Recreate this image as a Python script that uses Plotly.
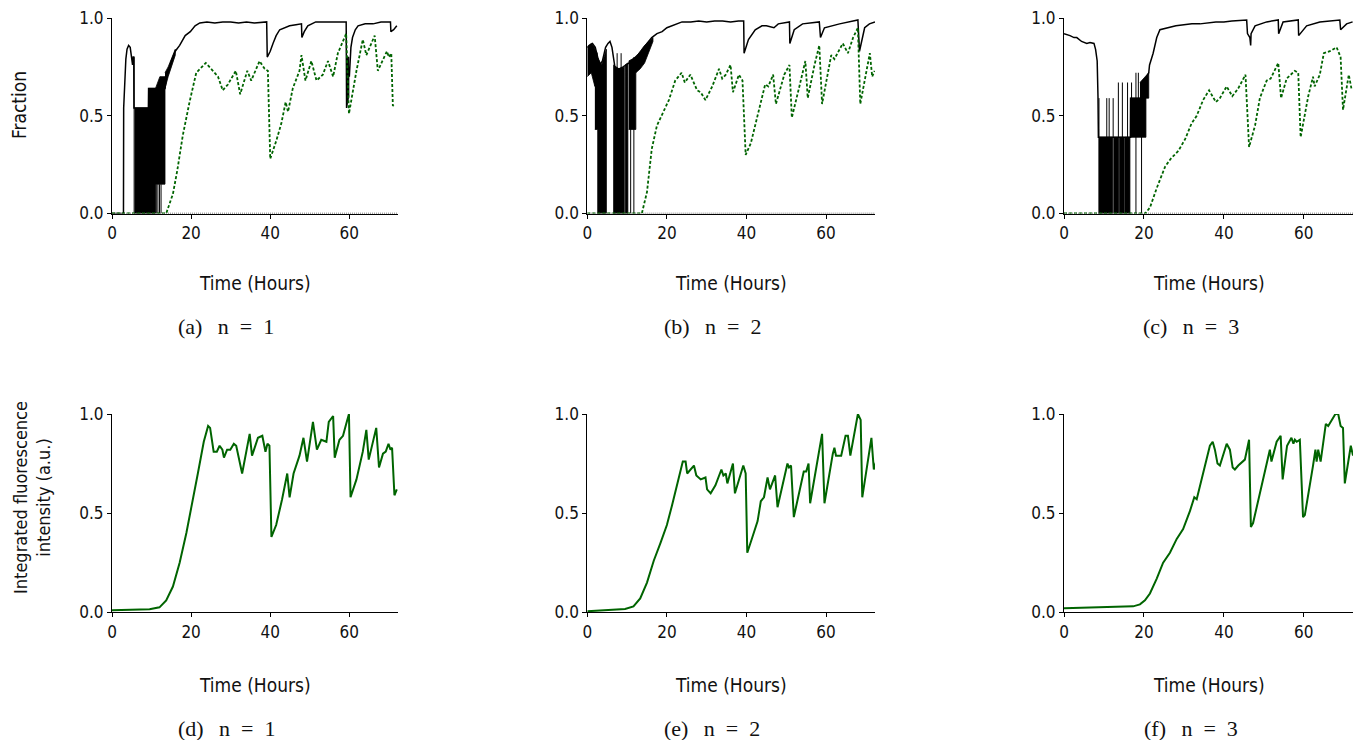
import plotly.graph_objects as go

# ---------------- data ----------------
# x axis: time in hours; y: fraction / normalised intensity
time_ticks = [0, 20, 40, 60]
y_ticks = [0.0, 0.5, 1.0]
y_ticklabels = ["0.0", "0.5", "1.0"]

# (a) n = 1 : black fraction (backbone)
a_black_t = [0, 2.9, 2.95, 3.2, 3.5, 3.8, 4.2, 4.6, 4.9, 5.2, 5.35, 5.5, 5.55, 9.2, 9.25, 13.4, 13.8, 14.2, 15.0,
             16.0, 17.1, 18.5, 19.8, 21.0, 22.2, 24, 26, 28, 30, 32, 34, 36, 38, 39.1, 39.25, 40.0, 40.7, 41.5,
             42.4, 43.5, 44.9, 46.5, 47.9, 48.0, 48.6, 49.5, 51.5, 54, 57, 59.2, 59.3, 59.45, 59.6, 59.8, 60.0,
             60.4, 60.8, 61.5, 62.2, 64, 66, 68, 70.4, 70.5, 71.2, 72]
a_black_v = [0, 0, 0.54, 0.70, 0.79, 0.84, 0.86, 0.85, 0.80, 0.76, 0.80, 0.80, 0.54, 0.54, 0.64, 0.64, 0.70, 0.73,
             0.78, 0.83, 0.86, 0.91, 0.93, 0.96, 0.975, 0.98, 0.975, 0.98, 0.98, 0.975, 0.98, 0.975, 0.98, 0.98,
             0.80, 0.83, 0.87, 0.91, 0.94, 0.95, 0.96, 0.965, 0.97, 0.90, 0.93, 0.96, 0.98, 0.98, 0.98, 0.98, 0.54,
             0.80, 0.60, 0.75, 0.70, 0.85, 0.90, 0.94, 0.96, 0.97, 0.97, 0.98, 0.98, 0.93, 0.94, 0.96]
# dense switching blocks of the black fraction (t, lower, upper)
a_band_t = [[5.7, 9.2], [9.2, 11.0], [11.0, 12.1, 13.4], [13.4, 14.2, 15.0, 16.0], [59.3, 59.9]]
a_band_lo = [[0, 0], [0, 0], [0.15, 0.15, 0.15], [0.64, 0.70, 0.75, 0.81], [0.54, 0.60]]
a_band_hi = [[0.54, 0.54], [0.64, 0.64], [0.64, 0.70, 0.70], [0.72, 0.75, 0.79, 0.84], [0.80, 0.80]]
a_spike_t = [5.6, 11.2, 11.6, 12.0, 12.4]
a_spike_lo = [0, 0, 0, 0, 0]
a_spike_hi = [0.80, 0.15, 0.15, 0.15, 0.15]
# green fraction (dotted)
a_green_t = [0, 13.7, 15.4, 16.5, 17.9, 19.6, 21.3, 23.7, 25.5, 26.8, 28.0, 29.3, 31.3, 32.4, 34.2, 35.2, 37.3,
             38.6, 39.4, 40.0, 41.5, 42.8, 43.9, 44.5, 45.7, 47.4, 47.9, 48.9, 50.4, 51.7, 53.3, 54.6, 55.9, 57.1,
             59.2, 59.9, 61.8, 63.4, 64.3, 66.4, 67.2, 68.5, 69.5, 70.0, 70.6, 71.0, 71.5]
a_green_v = [0, 0, 0.10, 0.22, 0.40, 0.57, 0.72, 0.77, 0.73, 0.70, 0.63, 0.66, 0.73, 0.61, 0.73, 0.68, 0.78, 0.74,
             0.73, 0.28, 0.37, 0.46, 0.57, 0.52, 0.64, 0.73, 0.81, 0.68, 0.78, 0.68, 0.71, 0.78, 0.70, 0.82, 0.92,
             0.51, 0.73, 0.89, 0.81, 0.91, 0.73, 0.79, 0.83, 0.80, 0.82, 0.55, 0.56]

# (b) n = 2
b_black_t = [0, 0.5, 1.3, 2.0, 2.6, 3.2, 3.8, 4.6, 5.2, 5.7, 6.2, 6.7, 7.0, 8.0, 9.0, 10.5, 12.0, 13.7, 15.0, 16.2,
             17.5, 18.8, 20, 21.3, 22.5, 23.8, 26, 28, 30, 32, 34, 36, 38, 39.3, 39.4, 40.5, 42.2, 43.9, 45, 46.9,
             48, 50.8, 50.9, 52, 54.1, 56, 58.3, 58.6, 59.6, 63.4, 65.5, 68.0, 68.4, 69.7, 70.9, 72.3]
b_black_v = [0.85, 0.86, 0.87, 0.85, 0.80, 0.76, 0.78, 0.85, 0.87, 0.88, 0.85, 0.78, 0.74, 0.74, 0.75, 0.77, 0.80,
             0.83, 0.87, 0.90, 0.92, 0.93, 0.95, 0.96, 0.97, 0.98, 0.98, 0.985, 0.98, 0.985, 0.985, 0.98, 0.985,
             0.985, 0.82, 0.89, 0.94, 0.96, 0.96, 0.95, 0.97, 0.98, 0.87, 0.94, 0.97, 0.975, 0.98, 0.90, 0.95,
             0.97, 0.98, 0.99, 0.83, 0.95, 0.97, 0.98]
b_band_t = [[0, 1.0, 1.9], [1.9, 2.5], [2.5, 3.6, 4.8], [6.5, 8.0, 9.3], [9.5, 10.2], [10.4, 12.2],
            [12.2, 13.3, 14.4, 15.5, 16.5]]
b_band_lo = [[0.70, 0.72, 0.65], [0.43, 0.43], [0, 0, 0], [0, 0, 0], [0, 0], [0.43, 0.43],
             [0.72, 0.74, 0.77, 0.83, 0.88]]
b_band_hi = [[0.85, 0.87, 0.85], [0.84, 0.82], [0.80, 0.76, 0.84], [0.76, 0.74, 0.75], [0.76, 0.77], [0.78, 0.80],
             [0.80, 0.83, 0.86, 0.88, 0.90]]
b_spike_t = [7.5, 8.5, 10.9, 11.7]
b_spike_lo = [0.74, 0.74, 0, 0]
b_spike_hi = [0.82, 0.82, 0.78, 0.80]
b_green_t = [0, 13.7, 15.0, 16.2, 17.5, 18.8, 20.5, 22.1, 23.7, 24.5, 25.9, 27.6, 28.5, 29.7, 31.4, 33.1, 33.9,
             34.8, 36.0, 36.6, 38.1, 39.0, 39.8, 41.1, 42.3, 43.6, 44.7, 45.5, 46.7, 47.4, 49.5, 50.8, 51.4, 53.3,
             54.8, 55.4, 57.1, 58.3, 59.0, 61.3, 62.1, 64.2, 65.5, 66.8, 68.0, 68.6, 71.0, 71.6, 72.2]
b_green_v = [0, 0, 0.11, 0.33, 0.45, 0.51, 0.58, 0.68, 0.72, 0.67, 0.71, 0.63, 0.62, 0.58, 0.65, 0.74, 0.69, 0.71,
             0.76, 0.62, 0.71, 0.68, 0.30, 0.36, 0.46, 0.57, 0.66, 0.65, 0.71, 0.56, 0.71, 0.76, 0.49, 0.65, 0.78,
             0.59, 0.76, 0.86, 0.56, 0.81, 0.79, 0.87, 0.82, 0.90, 0.95, 0.56, 0.82, 0.70, 0.73]

# (c) n = 3
c_black_t = [0, 0.8, 1.5, 2.5, 3.2, 4.4, 5.0, 5.7, 6.5, 7.5, 7.9, 8.3, 8.5, 8.6, 16.6, 16.65, 19.3, 19.35, 21.2,
             21.4, 22.3, 23.2, 24.0, 25.7, 28, 30, 32, 34, 36, 38, 40, 42, 45.7, 45.9, 46.5, 46.7, 46.8, 47.8,
             50.7, 53.6, 53.7, 54.8, 58.6, 58.7, 60.7, 64, 69, 69.2, 70.7, 72.2]
c_black_v = [0.92, 0.915, 0.91, 0.90, 0.90, 0.88, 0.875, 0.87, 0.875, 0.87, 0.84, 0.78, 0.60, 0.39, 0.39, 0.59,
             0.59, 0.65, 0.72, 0.76, 0.82, 0.90, 0.94, 0.95, 0.96, 0.965, 0.97, 0.97, 0.975, 0.98, 0.98, 0.985,
             0.99, 0.92, 0.90, 0.86, 0.92, 0.96, 0.98, 0.99, 0.92, 0.98, 0.99, 0.91, 0.96, 0.98, 0.99, 0.94, 0.97,
             0.98]
c_band_t = [[8.6, 12.2], [12.35, 13.65], [13.8, 15.1], [15.25, 16.5], [16.6, 20.5], [19.0, 21.2]]
c_band_lo = [[0, 0], [0, 0], [0, 0], [0, 0], [0.39, 0.39], [0.59, 0.59]]
c_band_hi = [[0.39, 0.39], [0.39, 0.39], [0.39, 0.39], [0.39, 0.39], [0.59, 0.59], [0.67, 0.72]]
c_spike_t = [8.75, 10.7, 11.3, 12.3, 13.6, 14.6, 15.9, 16.9, 18.0, 18.6, 18.0, 19.4]
c_spike_lo = [0.39, 0.39, 0.39, 0.39, 0.39, 0.39, 0.39, 0.39, 0.59, 0.59, 0, 0]
c_spike_hi = [0.59, 0.59, 0.59, 0.59, 0.67, 0.67, 0.67, 0.67, 0.72, 0.72, 0.59, 0.59]
c_green_t = [0, 20.3, 21.5, 23.2, 25.3, 26.7, 28.6, 30.3, 31.9, 33.2, 34.8, 36.3, 38.0, 39.0, 40.7, 42.1, 43.6,
             45.4, 46.3, 47.8, 49.0, 50.7, 51.7, 53.6, 54.3, 55.7, 57.75, 58.6, 59.2, 61.1, 62.3, 62.7, 64.0, 65.0,
             66.5, 68.2, 69.2, 69.8, 71.25, 71.9]
c_green_v = [0, 0, 0.03, 0.13, 0.24, 0.28, 0.32, 0.38, 0.46, 0.50, 0.58, 0.63, 0.57, 0.59, 0.65, 0.60, 0.64, 0.71,
             0.34, 0.45, 0.59, 0.68, 0.69, 0.77, 0.59, 0.69, 0.73, 0.72, 0.39, 0.60, 0.70, 0.65, 0.71, 0.82, 0.83,
             0.85, 0.80, 0.53, 0.71, 0.64]

# third fraction (zero throughout, dotted along the baseline)
other_t = [0, 72.3]
other_v = [0, 0]

# (d)-(f) integrated fluorescence intensity
d_t = [0, 9.5, 12.0, 13.7, 15.4, 17.1, 18.8, 20.5, 21.7, 23.2, 24.3, 24.8, 25.7, 26.5, 27.2, 27.9, 28.3, 29.1,
       29.9, 30.8, 31.4, 32.9, 34.8, 35.4, 36.9, 38.0, 38.8, 39.3, 39.8, 40.3, 41.5, 43.0, 44.3, 44.9, 45.9, 47.4,
       48.4, 49.3, 50.8, 51.8, 52.9, 54.2, 54.8, 55.9, 56.3, 57.5, 58.4, 59.2, 59.9, 60.3, 61.8, 63.4, 64.3, 64.9,
       66.8, 67.5, 68.5, 69.2, 69.9, 70.4, 70.8, 71.4, 72.0]
d_v = [0.01, 0.015, 0.025, 0.06, 0.13, 0.25, 0.40, 0.57, 0.70, 0.86, 0.94, 0.93, 0.81, 0.81, 0.84, 0.82, 0.78,
       0.82, 0.82, 0.85, 0.84, 0.70, 0.90, 0.79, 0.88, 0.89, 0.81, 0.85, 0.84, 0.38, 0.44, 0.57, 0.70, 0.58, 0.70,
       0.79, 0.88, 0.76, 0.96, 0.82, 0.87, 0.86, 0.96, 0.99, 0.78, 0.87, 0.89, 0.95, 1.0, 0.58, 0.67, 0.81, 0.92,
       0.77, 0.93, 0.73, 0.80, 0.81, 0.85, 0.82, 0.83, 0.59, 0.62]
e_t = [0, 9.5, 11.6, 13.3, 15.0, 16.7, 18.4, 20.0, 21.3, 23.0, 24.0, 24.7, 25.1, 26.8, 27.4, 28.5, 29.7, 30.1,
       31.0, 32.2, 33.7, 34.2, 34.8, 35.2, 36.6, 37.1, 39.2, 39.8, 40.2, 41.5, 42.8, 43.6, 44.4, 45.3, 45.9, 47.2,
       47.8, 50.3, 50.7, 51.2, 51.9, 54.4, 55.0, 55.6, 56.0, 59.0, 59.6, 61.7, 62.1, 62.5, 63.8, 64.9, 65.5, 66.1,
       68.0, 68.7, 69.1, 71.4, 72.0, 72.6]
e_v = [0.005, 0.017, 0.03, 0.07, 0.15, 0.26, 0.35, 0.44, 0.54, 0.68, 0.76, 0.76, 0.70, 0.74, 0.69, 0.67, 0.68, 0.62,
       0.60, 0.64, 0.72, 0.69, 0.70, 0.65, 0.75, 0.60, 0.74, 0.70, 0.30, 0.38, 0.46, 0.56, 0.58, 0.68, 0.62, 0.69,
       0.53, 0.75, 0.73, 0.74, 0.48, 0.71, 0.71, 0.75, 0.55, 0.90, 0.55, 0.80, 0.83, 0.79, 0.79, 0.89, 0.89, 0.79,
       1.0, 0.97, 0.58, 0.88, 0.72, 0.76]
f_t = [0, 13.2, 17.3, 19.0, 20.25, 21.5, 23.2, 24.8, 26.5, 28.2, 29.8, 31.5, 32.6, 33.2, 34.4, 35.7, 36.5, 37.2,
       37.75, 38.4, 39.0, 40.7, 41.5, 42.2, 42.75, 43.6, 45.25, 46.3, 46.75, 47.3, 49.0, 50.7, 51.5, 51.9, 53.2,
       54.2, 54.7, 55.8, 56.9, 57.4, 57.75, 58.2, 59.0, 59.8, 60.25, 62.3, 62.9, 63.2, 63.6, 64.2, 65.5, 66.1,
       67.3, 67.9, 68.6, 69.2, 69.8, 70.25, 71.75, 72.3]
f_v = [0.02, 0.025, 0.03, 0.04, 0.06, 0.095, 0.17, 0.25, 0.30, 0.37, 0.42, 0.51, 0.58, 0.57, 0.67, 0.77, 0.84,
       0.86, 0.82, 0.75, 0.74, 0.85, 0.82, 0.73, 0.72, 0.74, 0.77, 0.87, 0.43, 0.45, 0.60, 0.74, 0.82, 0.76, 0.86,
       0.89, 0.67, 0.84, 0.88, 0.85, 0.87, 0.86, 0.87, 0.48, 0.49, 0.74, 0.82, 0.76, 0.82, 0.76, 0.95, 0.94, 0.98,
       1.0, 1.0, 0.94, 0.93, 0.65, 0.84, 0.79]

panel_letters = ["(a)", "(b)", "(c)", "(d)", "(e)", "(f)"]
panel_n = ["1", "2", "3", "1", "2", "3"]
x_title = "Time (Hours)"
y_title_top = "Fraction"
y_title_bottom = "Integrated fluorescence<br>intensity (a.u.)"

# ---------------- styling / layout ----------------
OFF = 8                      # the page body adds an 8 px margin; lay out in screen pixels and shift
W, H = 1364 - OFF, 740 - OFF
SANS = "DejaVu Sans Condensed, Liberation Sans Narrow, Arial Narrow, sans-serif"
SERIF = "Liberation Serif, DejaVu Serif, serif"
GREEN = "#006400"
XMAX = 72.3

col_px = [(112.0, 398.0), (587.3, 875.0), (1064.0, 1353.0)]   # screen pixels
row_px = [(18.0, 213.5), (414.0, 612.3)]                      # (top, bottom) screen pixels
caption_x = [226, 712, 1191]
xtitle_y = [283, 685]
caption_y = [326, 728]


def px_x(p):
    return (p - OFF) / W


def px_y(p):
    return (H - (p - OFF)) / H


fig = go.Figure()
layout = dict(width=W, height=H, margin=dict(l=0, r=0, t=0, b=0, pad=0), autosize=False,
              plot_bgcolor="white", paper_bgcolor="white", showlegend=False, template="none")

axis_common = dict(showgrid=False, zeroline=False, showline=True, linecolor="black", linewidth=1,
                   ticks="outside", ticklen=4, tickwidth=1, tickcolor="black", automargin=False,
                   ticklabeloverflow="allow",
                   tickfont=dict(family=SANS, size=17, color="#111"))

annotations = []
for r in range(2):
    for c in range(3):
        k = r * 3 + c + 1
        xa = "xaxis" if k == 1 else f"xaxis{k}"
        ya = "yaxis" if k == 1 else f"yaxis{k}"
        x0, x1 = col_px[c]
        ytop, ybot = row_px[r]
        layout[xa] = dict(axis_common, domain=[px_x(x0), px_x(x1)], range=[0, XMAX],
                          tickvals=time_ticks, anchor=f"y{k}" if k > 1 else "y")
        layout[ya] = dict(axis_common, domain=[px_y(ybot), px_y(ytop)], range=[0, 1],
                          tickvals=y_ticks, ticktext=y_ticklabels, anchor=f"x{k}" if k > 1 else "x")
        annotations.append(dict(text=x_title, x=px_x((x0 + x1) / 2), y=px_y(xtitle_y[r]),
                                xref="paper", yref="paper", showarrow=False, xanchor="center",
                                yanchor="middle", font=dict(family=SANS, size=19, color="#111")))
        caption = panel_letters[k - 1] + "\u2002\u2009n\u2002=\u2002" + panel_n[k - 1]
        annotations.append(dict(text=caption, x=px_x(caption_x[c]), y=px_y(caption_y[r]),
                                xref="paper", yref="paper", showarrow=False, xanchor="center",
                                yanchor="middle", font=dict(family=SERIF, size=22, color="#111")))

annotations.append(dict(text=y_title_top, x=px_x(19), y=px_y(105), xref="paper", yref="paper",
                        showarrow=False, textangle=-90, xanchor="center", yanchor="middle",
                        font=dict(family=SANS, size=19, color="#111")))
annotations.append(dict(text=y_title_bottom, x=px_x(32), y=px_y(498), xref="paper", yref="paper",
                        showarrow=False, textangle=-90, xanchor="center", yanchor="middle",
                        font=dict(family=SANS, size=18, color="#111")))
layout["annotations"] = annotations


def band_polygons(bt, blo, bhi):
    xs, ys = [], []
    for t, lo, hi in zip(bt, blo, bhi):
        xs += list(t) + list(t[::-1]) + [None]
        ys += list(hi) + list(lo[::-1]) + [None]
    return xs, ys


def spike_lines(st, slo, shi):
    xs, ys = [], []
    for t, lo, hi in zip(st, slo, shi):
        xs += [t, t, None]
        ys += [lo, hi, None]
    return xs, ys


top_sets = [
    (a_black_t, a_black_v, a_band_t, a_band_lo, a_band_hi, a_spike_t, a_spike_lo, a_spike_hi, a_green_t, a_green_v),
    (b_black_t, b_black_v, b_band_t, b_band_lo, b_band_hi, b_spike_t, b_spike_lo, b_spike_hi, b_green_t, b_green_v),
    (c_black_t, c_black_v, c_band_t, c_band_lo, c_band_hi, c_spike_t, c_spike_lo, c_spike_hi, c_green_t, c_green_v),
]
for i, (bt, bv, bdt, bdl, bdh, st, sl, sh, gt, gv) in enumerate(top_sets):
    k = i + 1
    xr = "x" if k == 1 else f"x{k}"
    yr = "y" if k == 1 else f"y{k}"
    px, py = band_polygons(bdt, bdl, bdh)
    fig.add_trace(go.Scatter(x=px, y=py, mode="lines", fill="toself", fillcolor="black",
                             line=dict(color="black", width=0.8), xaxis=xr, yaxis=yr, hoverinfo="skip"))
    sx, sy = spike_lines(st, sl, sh)
    fig.add_trace(go.Scatter(x=sx, y=sy, mode="lines", line=dict(color="black", width=1),
                             xaxis=xr, yaxis=yr, hoverinfo="skip"))
    fig.add_trace(go.Scatter(x=bt, y=bv, mode="lines", line=dict(color="black", width=1.5),
                             xaxis=xr, yaxis=yr))
    fig.add_trace(go.Scatter(x=other_t, y=other_v, mode="lines",
                             line=dict(color="#555555", width=1.5, dash="1px,1px"), xaxis=xr, yaxis=yr))
    fig.add_trace(go.Scatter(x=gt, y=gv, mode="lines", line=dict(color=GREEN, width=1.8, dash="3px,2px"),
                             xaxis=xr, yaxis=yr))

for i, (tt, vv) in enumerate([(d_t, d_v), (e_t, e_v), (f_t, f_v)]):
    k = i + 4
    fig.add_trace(go.Scatter(x=tt, y=vv, mode="lines", line=dict(color=GREEN, width=2),
                             xaxis=f"x{k}", yaxis=f"y{k}"))

fig.update_layout(**layout)
fig.write_html("out.html")
